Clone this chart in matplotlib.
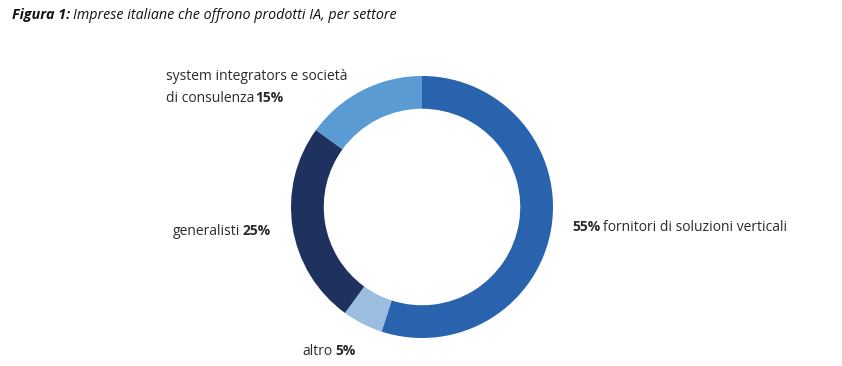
import matplotlib.pyplot as plt

# data
labels = ["fornitori di soluzioni verticali", "altro", "generalisti",
          "system integrators e società\ndi consulenza"]
values = [55, 5, 25, 15]
colors = ["#2A63AD", "#9ABDE0", "#1F315E", "#5B9BD3"]

W, H = 842, 366
fig = plt.figure(figsize=(W / 100, H / 100), dpi=100)
ax = fig.add_axes([0, 0, 1, 1])

cx, cy, r = 422, H - 207, 131
ax.pie(values, colors=colors, startangle=90, counterclock=False,
       center=(cx, cy), radius=r, frame=True,
       wedgeprops=dict(width=r * 0.25, linewidth=0))
ax.set_xlim(0, W)
ax.set_ylim(0, H)
ax.set_aspect("auto")
ax.axis("off")

FONT = "Open Sans"
TXT = "#2b2b2b"
fs = 10
renderer = fig.canvas.get_renderer()


def run(parts, x, y, ha="left", size=fs, color=TXT, style="normal", gap=3):
    # parts: list of (string, weight); y is the baseline in pixels
    arts = [ax.text(0, y, s, fontsize=size, fontweight=w, family=FONT,
                    color=color, fontstyle=style, va="baseline")
            for s, w in parts]
    widths = [a.get_window_extent(renderer).width for a in arts]
    total = sum(widths) + gap * (len(arts) - 1)
    x0 = x - total if ha == "right" else x
    for a, wd in zip(arts, widths):
        a.set_x(x0)
        x0 += wd + gap


run([("Figura 1:", "bold"),
     ("Imprese italiane che offrono prodotti IA, per settore", "normal")],
    12, H - 19, size=10.3, color="#111111", style="italic")

run([(f"{values[0]}%", "bold"), (labels[0], "normal")], 572, H - 231)
run([(labels[1], "normal"), (f"{values[1]}%", "bold")], 302, H - 355)
run([(labels[2], "normal"), (f"{values[2]}%", "bold")], 271, H - 235,
    ha="right")

first, second = labels[3].split("\n")
run([(first, "normal")], 166, H - 80)
run([(second, "normal"), (f"{values[3]}%", "bold")], 166, H - 102, gap=0.5)

fig.savefig("out.png", dpi=100, facecolor="white")
